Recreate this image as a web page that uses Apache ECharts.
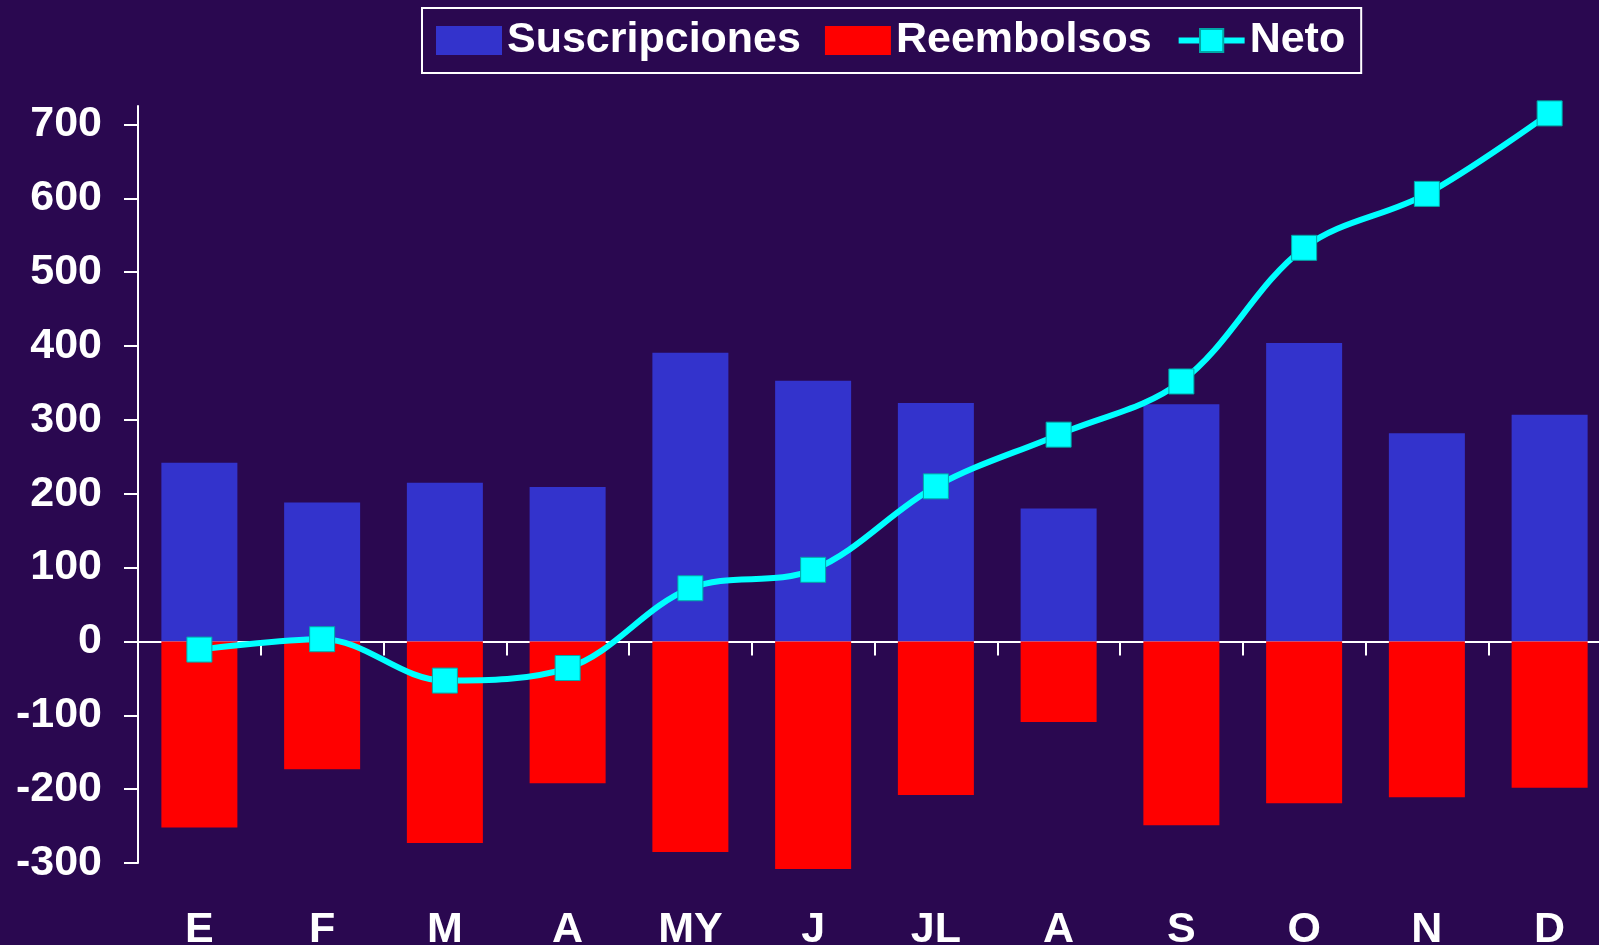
<!DOCTYPE html>
<html>
<head>
<meta charset="utf-8">
<title>Suscripciones y Reembolsos</title>
<script src="https://cdn.jsdelivr.net/npm/echarts@6/dist/echarts.min.js"></script>
<style>
  html, body { margin: 0; padding: 0; background: #2A0850; overflow: hidden; }
  #chart { width: 1599px; height: 945px; }
</style>
</head>
<body>
<div id="chart"></div>
<script>
// meses
var months = ['E', 'F', 'M', 'A', 'MY', 'J', 'JL', 'A', 'S', 'O', 'N', 'D'];
var suscripciones = [242, 188, 215, 209, 391, 353, 323, 180, 321, 404, 282, 307];
var reembolsos = [-252, -173, -273, -192, -285, -308, -208, -109, -249, -219, -211, -198];
var neto = [-11, 3, -53, -36, 72, 97, 210, 280, 352, 533, 606, 715];
var yTicks = [-300, -200, -100, 0, 100, 200, 300, 400, 500, 600, 700];

(function() {
    'use strict';
    var dom = document.getElementById('chart');
    var myChart = echarts.init(dom);
    var font = 'Liberation Sans, Arial, sans-serif';
    var option;
    option = {
        backgroundColor: '#2A0850',
        animation: false,
        legend: {
            left: 422,
            top: 8,
            padding: [11, 16, 11, 14],
            itemWidth: 66,
            itemHeight: 29,
            itemGap: 24,
            borderColor: '#FFFFFF',
            borderWidth: 2,
            textStyle: { color: '#FFFFFF', fontSize: 43, fontWeight: 'bold', fontFamily: font },
            data: [
                { name: 'Suscripciones', icon: 'rect' },
                { name: 'Reembolsos', icon: 'rect' },
                { name: 'Neto', lineStyle: { width: 6, color: '#00FFFF' } }
            ]
        },
        grid: {
            left: 138,
            width: 1473,
            top: 106,
            height: 757,
            containLabel: false,
            outerBoundsMode: 'none'
        },
        xAxis: [
            {
                type: 'category',
                data: months,
                boundaryGap: true,
                axisLine: { onZero: true, lineStyle: { color: '#FFFFFF', width: 2 } },
                axisTick: { show: true, interval: 0, length: 14, lineStyle: { color: '#FFFFFF', width: 2 } },
                axisLabel: { show: false }
            },
            {
                type: 'category',
                data: months,
                position: 'bottom',
                boundaryGap: true,
                axisLine: { show: false, onZero: false },
                axisTick: { show: false },
                axisLabel: {
                    interval: 0,
                    margin: 46,
                    color: '#FFFFFF',
                    fontSize: 43,
                    fontWeight: 'bold',
                    fontFamily: font
                }
            }
        ],
        yAxis: {
            type: 'value',
            min: -300,
            max: 725,
            splitLine: { show: false },
            axisLine: { show: true, lineStyle: { color: '#FFFFFF', width: 2 } },
            axisTick: { show: true, length: 14, customValues: yTicks, lineStyle: { color: '#FFFFFF', width: 2 } },
            axisLabel: {
                customValues: yTicks,
                margin: 36,
                color: '#FFFFFF',
                fontSize: 43,
                fontWeight: 'bold',
                fontFamily: font
            }
        },
        series: [
            {
                name: 'Suscripciones',
                type: 'bar',
                data: suscripciones,
                barWidth: 76,
                barGap: '-100%',
                clip: false,
                itemStyle: { color: '#3333CC' }
            },
            {
                name: 'Reembolsos',
                type: 'bar',
                data: reembolsos,
                barWidth: 76,
                barGap: '-100%',
                clip: false,
                itemStyle: { color: '#FF0000' }
            },
            {
                name: 'Neto',
                type: 'line',
                data: neto,
                smooth: 0.35,
                z: 5,
                symbol: 'rect',
                symbolSize: 25,
                lineStyle: { color: '#00FFFF', width: 6 },
                itemStyle: { color: '#00FFFF', borderColor: '#00A8A8', borderWidth: 1 }
            }
        ]
    };

    if (option && typeof option === 'object') {
        myChart.setOption(option);
    }
})();
</script>
</body>
</html>
